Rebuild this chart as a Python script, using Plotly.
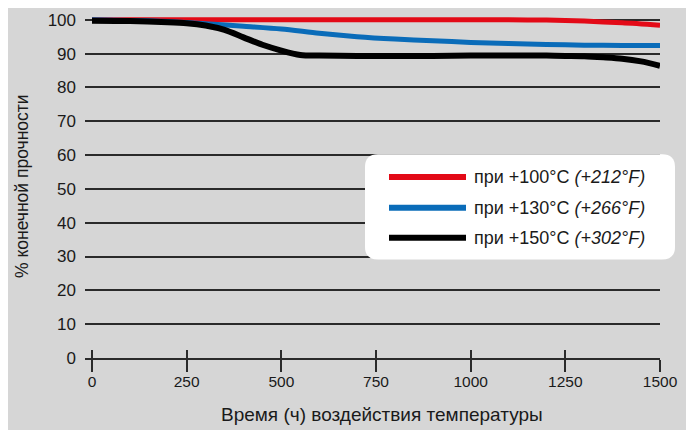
import plotly.graph_objects as go

# ---- data ----
hours_red = [0, 200, 400, 600, 800, 1000, 1100, 1200, 1300, 1400, 1500]
strength_100C = [100, 100, 100, 100, 100, 100, 100, 99.9, 99.6, 99.1, 98.4]

hours_blue = [0, 100, 200, 250, 300, 400, 500, 600, 700, 800, 900, 1000, 1100, 1200, 1300, 1400, 1500]
strength_130C = [100, 99.8, 99.5, 99.2, 98.8, 98.1, 97.3, 96.0, 95.0, 94.3, 93.8, 93.3, 93.0, 92.7, 92.5, 92.4, 92.4]

hours_black = [0, 100, 200, 250, 300, 350, 400, 450, 500, 550, 600, 700, 800, 900, 1000, 1100, 1200, 1250, 1300, 1350, 1400, 1450, 1500]
strength_150C = [99.7, 99.6, 99.3, 99.0, 98.3, 97.0, 94.8, 92.6, 90.9, 89.6, 89.4, 89.3, 89.3, 89.3, 89.4, 89.4, 89.4, 89.3, 89.2, 88.9, 88.5, 87.7, 86.4]

series_names = ["при +100°C <i>(+212°F)</i>", "при +130°C <i>(+266°F)</i>", "при +150°C <i>(+302°F)</i>"]
series_colors = ["#e30a17", "#0a6cb9", "#000000"]

x_ticks = [0, 250, 500, 750, 1000, 1250, 1500]
y_ticks = [0, 10, 20, 30, 40, 50, 60, 70, 80, 90, 100]

x_title = "Время (ч) воздействия температуры"
y_title = "% конечной прочности"

# ---- layout geometry (pixels) ----
# page body has an 8px margin, so the figure is shifted by OFF in the window
OFF = 8
W, H = 694 - OFF, 430 - OFF
ML, MR, MT, MB = 85 - OFF, 34, 11 - OFF, 72
PW, PH = W - ML - MR, H - MT - MB
FONT = "Liberation Sans, Arial, Helvetica, sans-serif"


def px(xp):
    # window pixel -> paper x
    return (xp - OFF - ML) / PW


def py(yp):
    # window pixel -> paper y
    return (H - MB - (yp - OFF)) / PH


fig = go.Figure()

all_x = [hours_red, hours_blue, hours_black]
all_y = [strength_100C, strength_130C, strength_150C]
widths = [5, 5, 6]
for xs, ys, c, w, n in zip(all_x, all_y, series_colors, widths, series_names):
    fig.add_trace(go.Scatter(x=xs, y=ys, mode="lines", name=n,
                             line=dict(color=c, width=w, shape="spline", smoothing=0.8),
                             showlegend=False, hoverinfo="skip"))

# ---- custom legend box (rounded) ----
x0, x1, y0, y1, r = 365, 675, 153, 259, 13
path = (f"M {px(x0 + r)} {py(y0)} L {px(x1 - r)} {py(y0)} "
        f"Q {px(x1)} {py(y0)} {px(x1)} {py(y0 + r)} "
        f"L {px(x1)} {py(y1 - r)} Q {px(x1)} {py(y1)} {px(x1 - r)} {py(y1)} "
        f"L {px(x0 + r)} {py(y1)} Q {px(x0)} {py(y1)} {px(x0)} {py(y1 - r)} "
        f"L {px(x0)} {py(y0 + r)} Q {px(x0)} {py(y0)} {px(x0 + r)} {py(y0)} Z")
shapes = [dict(type="path", path=path, xref="paper", yref="paper",
               fillcolor="white", line=dict(width=0), layer="above")]
annotations = []
rows = [176, 207, 237]
for yr, c, n in zip(rows, series_colors, series_names):
    shapes.append(dict(type="line", xref="paper", yref="paper",
                       x0=px(389), x1=px(466), y0=py(yr), y1=py(yr),
                       line=dict(color=c, width=6), layer="above"))
    annotations.append(dict(text=n, xref="paper", yref="paper", x=px(472), y=py(yr),
                            xanchor="left", yanchor="middle", showarrow=False,
                            font=dict(family=FONT, size=18, color="#1a1a1a")))

# axis titles
annotations.append(dict(text=x_title, xref="paper", yref="paper", x=px(382), y=py(415),
                        xanchor="center", yanchor="middle", showarrow=False,
                        font=dict(family=FONT, size=19, color="#1a1a1a")))
annotations.append(dict(text=y_title, xref="paper", yref="paper", x=px(22), y=py(185),
                        xanchor="center", yanchor="middle", showarrow=False, textangle=-90,
                        font=dict(family=FONT, size=17.5, color="#1a1a1a")))

fig.update_layout(
    width=W, height=H,
    margin=dict(l=ML, r=MR, t=MT, b=MB, pad=0),
    paper_bgcolor="#d6d6d6", plot_bgcolor="rgba(0,0,0,0)",
    font=dict(family=FONT, color="#1a1a1a"),
    shapes=shapes, annotations=annotations,
    xaxis=dict(range=[-18.5, 1500], tickmode="array", tickvals=x_ticks,
               ticktext=[str(v) for v in x_ticks],
               showgrid=False, zeroline=False, showline=True, linecolor="#2a2a2a", linewidth=1.5,
               ticks="outside", ticklen=12, tickwidth=1.5, tickcolor="#2a2a2a",
               tickfont=dict(size=15.5, color="#1a1a1a"), ticklabelstandoff=-3),
    xaxis2=dict(range=[-18.5, 1500], overlaying="x", anchor="y", side="bottom",
                tickmode="array", tickvals=x_ticks, showticklabels=False,
                showgrid=False, zeroline=False, showline=False,
                ticks="inside", ticklen=8, tickwidth=1.5, tickcolor="#2a2a2a"),
    yaxis=dict(range=[0, 102], tickmode="array", tickvals=y_ticks,
               showgrid=True, gridcolor="#2a2a2a", gridwidth=1.5,
               zeroline=False, showline=False, ticks="",
               tickfont=dict(size=17, color="#1a1a1a"), ticklabelstandoff=8),
)
# invisible trace on xaxis2 so that its inner ticks render
fig.add_trace(go.Scatter(x=[0], y=[None], xaxis="x2", yaxis="y", showlegend=False,
                         mode="lines", hoverinfo="skip"))

fig.write_html("out.html")
